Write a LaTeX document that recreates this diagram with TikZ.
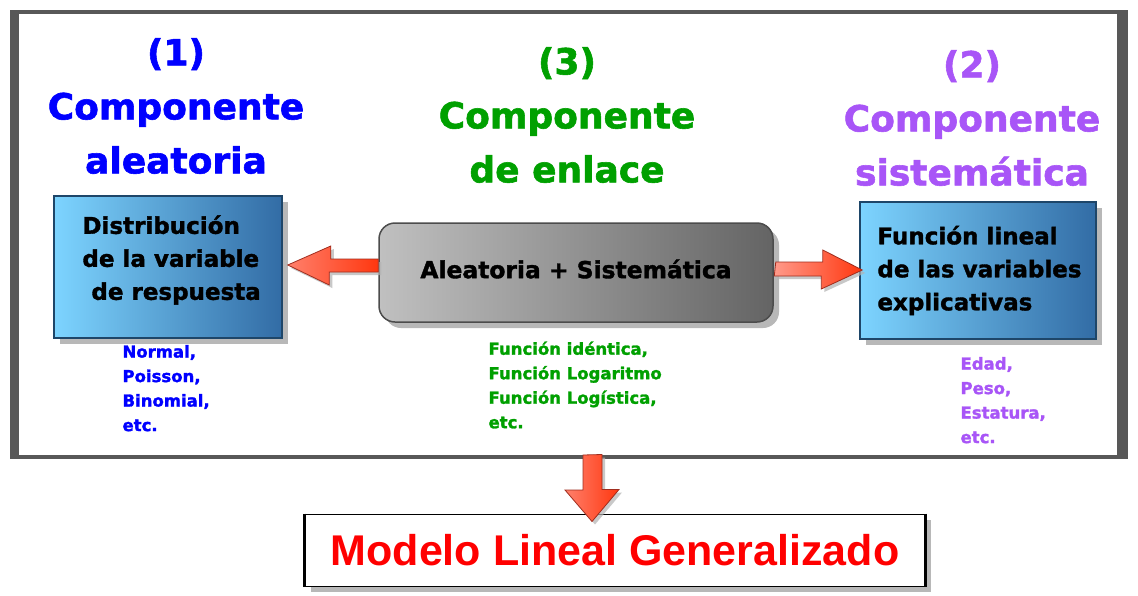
\documentclass[tikz,border=0pt]{standalone}
\usepackage{fontspec}
\setmainfont{DejaVu Sans}[BoldFeatures={FakeBold=1.6}]
\newfontfamily\arialfont{Liberation Sans}
\usetikzlibrary{calc,shadows}

\definecolor{azul}{RGB}{0,0,255}
\definecolor{verde}{RGB}{0,160,0}
\definecolor{morado}{RGB}{168,85,247}
\definecolor{celeste}{RGB}{125,212,255}
\definecolor{azulosc}{RGB}{50,108,165}
\definecolor{bordeazul}{RGB}{30,70,105}
\definecolor{grisclaro}{RGB}{192,192,192}
\definecolor{grisosc}{RGB}{100,100,100}
\definecolor{rojoclaro}{RGB}{255,128,108}
\definecolor{rojo}{RGB}{255,55,15}
\definecolor{bordero}{RGB}{160,45,30}
\definecolor{marco}{RGB}{88,88,88}

\tikzset{
  titulo/.style={font=\fontsize{36}{54}\selectfont\bfseries, align=center},
  sombra/.style={drop shadow={shadow xshift=6pt,shadow yshift=-6pt,fill=black!28,opacity=1}},
  caja/.style={sombra, draw=bordeazul, line width=1.5pt, left color=celeste,
    right color=azulosc, inner sep=0pt},
  textocaja/.style={anchor=west, align=left, inner sep=0pt,
    font=\fontsize{23}{33}\selectfont\bfseries},
  enlace/.style={sombra, draw=black!70, line width=1.5pt, rounded corners=16pt,
    left color=grisclaro, right color=grisosc, inner sep=0pt,
    font=\fontsize{23.4}{33}\selectfont\bfseries},
  lista/.style={anchor=north west, align=left, font=\fontsize{16.5}{24.5}\selectfont\bfseries},
  flecha/.style={draw=bordero, line width=0.8pt,
    drop shadow={shadow xshift=3pt,shadow yshift=-3pt,fill=black!30,opacity=.7}}
}

\begin{document}
\begin{tikzpicture}[x=1pt,y=-1pt]
  \useasboundingbox (0,0) rectangle (1138,595);
  % marco exterior
  \fill[marco] (10,10) rectangle (1128,459);
  \fill[white] (19,14) rectangle (1117,455);
  \coordinate (fb) at (592.5,455);

  % titulos
  \node[titulo, text=azul] (t1) at (176,106) {(1)\\Componente\\aleatoria};
  \node[titulo, text=verde] (t3) at (567,115) {(3)\\Componente\\de enlace};
  \node[titulo, text=morado] (t2) at (972,118) {(2)\\Componente\\sistemática};

  % cajas
  \node[caja, minimum width=228pt, minimum height=142pt] (ds) at (168,267) {};
  \node[textocaja] (dst) at ($(ds.west)+(29,-7)$)
    {Distribución\\de la variable\\\hspace{9pt}de respuesta};
  \node[enlace, minimum width=394pt, minimum height=99pt] (mid) at (576,272.5) {};
  \node[font=\fontsize{23.4}{33}\selectfont\bfseries] (midt) at (576,269)
    {Aleatoria + Sistemática};
  \node[caja, minimum width=236pt, minimum height=137pt] (fl) at (978,270.5) {};
  \node[textocaja] (flt) at ($(fl.west)+(18,0)$)
    {Función lineal\\de las variables\\explicativas};

  % listas
  \node[lista, text=azul] (l1) at (119,341.5) {Normal,\\Poisson,\\Binomial,\\etc.};
  \node[lista, text=verde] (l3) at (485,338) {Función idéntica,\\Función Logaritmo\\Función Logística,\\etc.};
  \node[lista, text=morado] (l2) at (957,353.5) {Edad,\\Peso,\\Estatura,\\etc.};

  % modelo
  \node[sombra, draw=black, line width=1pt, fill=white, minimum width=620pt,
    minimum height=72pt, text=red, font=\arialfont\fontsize{43}{50}\selectfont\bfseries]
    (mod) at (615,550) {Modelo Lineal Generalizado};
  \draw[line width=3pt] (mod.north west) -- (mod.south west);
  \draw[line width=3pt] (mod.north east) -- (mod.south east);

  % flechas
  \shade[flecha, left color=rojoclaro, right color=rojo]
    ($(ds.east)+(5,-2)$) -- ++(43,-19) -- ++(0,13) -- ($(mid.west)+(0,-13.5)$)
    -- ++(0,13) -- ++(-49,0) -- ++(0,13) -- cycle;
  \shade[flecha, left color=rojoclaro!80!white, right color=rojo]
    ($(mid.east)+(2,-10.5)$) -- ++(47,0) -- ++(0,-12) -- ($(fl.west)+(3,-0.5)$)
    -- ++(-41,19) -- ++(0,-13) -- ++(-47,0) -- cycle;
  \shade[flecha, left color=rojoclaro, right color=rojo]
    ($(fb)+(-9.5,0)$) -- ++(0,35) -- ++(-18,0) -- ($(mod.north)+(-23,8)$)
    -- ++(27,-32) -- ++(-17,0) -- ++(0,-35) -- cycle;
\end{tikzpicture}
\end{document}
